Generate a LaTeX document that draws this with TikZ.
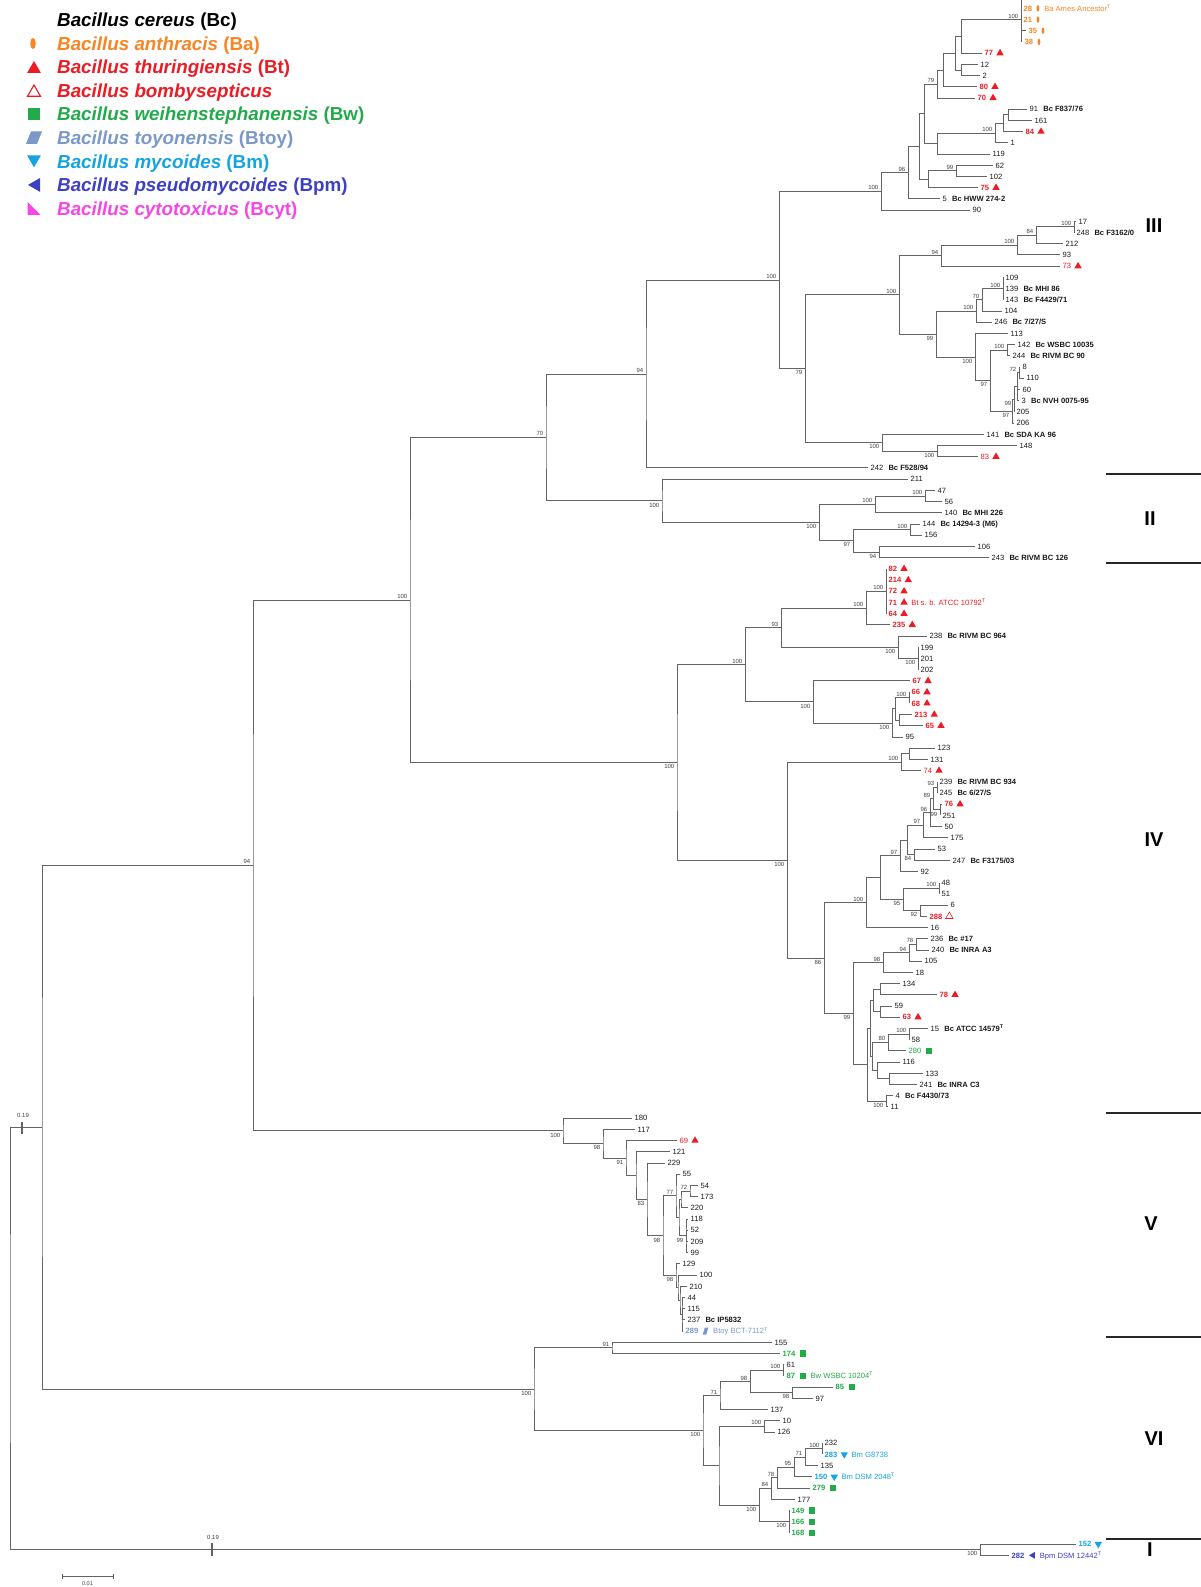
\documentclass[tikz,border=0pt]{standalone}
\usepackage{fontspec}
\setmainfont{Liberation Sans}
\usepackage{xcolor}
\usepackage{tikz}
\usetikzlibrary{positioning, calc, shapes.geometric}

\definecolor{ba}{RGB}{246,133,36}
\definecolor{bt}{RGB}{237,28,36}
\definecolor{bw}{RGB}{34,170,75}
\definecolor{btoy}{RGB}{122,153,200}
\definecolor{bm}{RGB}{22,163,226}
\definecolor{bpm}{RGB}{62,64,196}
\definecolor{bcyt}{RGB}{246,70,232}
\definecolor{branch}{RGB}{100,100,100}

% leaf: name, tip x, row, label
\newcommand{\leaf}[4]{%
  \coordinate (#1) at (#2,{-2.9+#3*11.21});
  \node[lbl] (#1-l) at (#1) {#4};}
% clade: name, x, first child, last child, bootstrap, label style
\newcommand{\clade}[6]{%
  \coordinate (#1-x) at (#2,0);
  \coordinate (#1-m) at ($(#3)!.5!(#4)$);
  \coordinate (#1) at (#1-x |- #1-m);
  \draw[br] (#3) -| (#1) |- (#4);
  \node[#6] (#1-b) at (#1) {#5};}
\newcommand{\sym}[2]{\node[#2, right=1.5pt of #1-l] (#1-s) {};}
\newcommand{\sname}[3]{\node[nm, text=#2, right=4.5pt of #1-s] (#1-n) {#3};}
\newcommand{\cn}[2]{\textcolor{#1}{\textbf{#2}}}
\newcommand{\bc}[1]{\hspace{3pt}\textbf{#1}}

\begin{document}
\begin{tikzpicture}[x=1pt, y=-1pt,
    br/.style={draw=branch, line width=0.9pt},
    brk/.style={draw=branch, line width=1.6pt},
    lbl/.style={anchor=west, inner xsep=2.5pt, inner ysep=0.5pt, text height=5.5pt, text depth=0pt, text=black!90, font=\fontsize{7.6}{9}\selectfont},
    nm/.style={inner sep=0pt, text height=5.5pt, text depth=0pt, font=\fontsize{7.6}{9}\selectfont},
    bs/.style={inner sep=0pt, text=black!75, font=\fontsize{6}{7}\selectfont},
    bsa/.style={bs, anchor=south east, xshift=-2.5pt, yshift=1.2pt},
    bsb/.style={bs, anchor=north east, xshift=-2.5pt, yshift=-1.8pt},
    bam/.style={ellipse, fill=ba, inner sep=0pt, minimum width=2.8pt, minimum height=6.5pt},
    btm/.style={regular polygon, regular polygon sides=3, fill=bt, inner sep=0pt, minimum size=8.5pt},
    bbm/.style={btm, fill=white, draw=bt, line width=0.6pt},
    bwm/.style={rectangle, fill=bw, inner sep=0pt, minimum size=6.2pt},
    btoym/.style={rectangle, fill=white, inner sep=0pt, minimum width=5.5pt, minimum height=6.8pt,
      path picture={\fill[btoy] (path picture bounding box.south west) -- ([xshift=-2pt]path picture bounding box.south east)
        -- (path picture bounding box.north east) -- ([xshift=2pt]path picture bounding box.north west) -- cycle;}},
    bmm/.style={btm, fill=bm, shape border rotate=180},
    bpmm/.style={btm, fill=bpm, shape border rotate=90, minimum size=8pt},
    sep/.style={line width=2pt, black!85},
    cladelbl/.style={inner sep=1pt, font=\fontsize{20}{24}\selectfont\bfseries},
    legtxt/.style={anchor=west, inner sep=0pt, text height=13.4pt, text depth=0pt, font=\fontsize{18.8}{22}\selectfont\bfseries}]
\useasboundingbox (0,0) rectangle (1201,1587);

% legend
\node[bam, minimum width=5.5pt, minimum height=11pt] (lg-ba) at (33,43.5) {};
\node[btm, minimum size=16pt] (lg-bt) at (34,69) {};
\node[bbm, minimum size=15pt, line width=1.1pt] (lg-bb) at (34,92.5) {};
\node[bwm, minimum size=12.5pt] (lg-bw) at (34,114.2) {};
\node[rectangle, fill=white, inner sep=0pt, minimum width=16pt, minimum height=12.5pt,
  path picture={\fill[btoy] (path picture bounding box.south west) -- ([xshift=-5pt]path picture bounding box.south east)
    -- (path picture bounding box.north east) -- ([xshift=5pt]path picture bounding box.north west) -- cycle;}] (lg-btoy) at (34,137.7) {};
\node[bmm, minimum size=16pt] (lg-bm) at (34,159.3) {};
\node[bpmm, minimum size=16pt] (lg-bpm) at (36,184.9) {};
\node[rectangle, fill=white, inner sep=0pt, minimum size=13pt,
  path picture={\fill[bcyt] (path picture bounding box.south west) -- (path picture bounding box.north west)
    -- (path picture bounding box.south east) -- cycle;}] (lg-bcyt) at (34,208.4) {};
\node[legtxt] (lg1) at (57,20) {\textit{Bacillus cereus} (Bc)};
\node[legtxt, text=ba] (lg2) at (57,43.55) {\textit{Bacillus anthracis} (Ba)};
\node[legtxt, text=bt] (lg3) at (57,67.1) {\textit{Bacillus thuringiensis} (Bt)};
\node[legtxt, text=bt] (lg4) at (57,90.65) {\textit{Bacillus bombysepticus}};
\node[legtxt, text=bw] (lg5) at (57,114.2) {\textit{Bacillus weihenstephanensis} (Bw)};
\node[legtxt, text=btoy] (lg6) at (57,137.75) {\textit{Bacillus toyonensis} (Btoy)};
\node[legtxt, text=bm] (lg7) at (57,161.3) {\textit{Bacillus mycoides} (Bm)};
\node[legtxt, text=bpm] (lg8) at (57,184.85) {\textit{Bacillus pseudomycoides} (Bpm)};
\node[legtxt, text=bcyt] (lg9) at (57,208.4) {\textit{Bacillus cytotoxicus} (Bcyt)};

% clade III leaves
\leaf{t0}{1021}{0}{}
\leaf{t28}{1021}{1}{\cn{ba}{28}} \sym{t28}{bam} \sname{t28}{ba}{Ba Ames Ancestor\textsuperscript{T}}
\leaf{t21}{1021}{2}{\cn{ba}{21}} \sym{t21}{bam}
\leaf{t35}{1026}{3}{\cn{ba}{35}} \sym{t35}{bam}
\leaf{t38}{1022}{4}{\cn{ba}{38}} \sym{t38}{bam}
\leaf{t77}{982}{5}{\cn{bt}{77}} \sym{t77}{btm}
\leaf{t12}{978}{6}{12}
\leaf{t2}{980}{7}{2}
\leaf{t80}{977}{8}{\cn{bt}{80}} \sym{t80}{btm}
\leaf{t70}{975}{9}{\cn{bt}{70}} \sym{t70}{btm}
\leaf{t91}{1027}{10}{91 \bc{Bc F837/76}}
\leaf{t161}{1032}{11}{161}
\leaf{t84}{1023}{12}{\cn{bt}{84}} \sym{t84}{btm}
\leaf{t1}{1008}{13}{1}
\leaf{t119}{990}{14}{119}
\leaf{t62}{993}{15}{62}
\leaf{t102}{987}{16}{102}
\leaf{t75}{978}{17}{\cn{bt}{75}} \sym{t75}{btm}
\leaf{t5}{940}{18}{5 \bc{Bc HWW 274-2}}
\leaf{t90}{970}{19}{90}
\leaf{t17}{1076}{20}{17}
\leaf{t248}{1074}{21}{248 \bc{Bc F3162/0}}
\leaf{t212}{1063}{22}{212}
\leaf{t93}{1060}{23}{93}
\leaf{t73}{1060}{24}{\textcolor{bt}{73}} \sym{t73}{btm}
\leaf{t109}{1003}{25}{109}
\leaf{t139}{1003}{26}{139 \bc{Bc MHI 86}}
\leaf{t143}{1003}{27}{143 \bc{Bc F4429/71}}
\leaf{t104}{1002}{28}{104}
\leaf{t246}{992}{29}{246 \bc{Bc 7/27/S}}
\leaf{t113}{1008}{30}{113}
\leaf{t142}{1015}{31}{142 \bc{Bc WSBC 10035}}
\leaf{t244}{1010}{32}{244 \bc{Bc RIVM BC 90}}
\leaf{t8}{1020}{33}{8}
\leaf{t110}{1024}{34}{110}
\leaf{t60}{1020}{35}{60}
\leaf{t3}{1019}{36}{3 \bc{Bc NVH 0075-95}}
\leaf{t205}{1014}{37}{205}
\leaf{t206}{1014}{38}{206}
\leaf{t141}{984}{39}{141 \bc{Bc SDA KA 96}}
\leaf{t148}{1017}{40}{148}
\leaf{t83}{978}{41}{\textcolor{bt}{83}} \sym{t83}{btm}
\leaf{t242}{868}{42}{242 \bc{Bc F528/94}}
% clade II leaves
\leaf{t211}{908}{43}{211}
\leaf{t47}{935}{44}{47}
\leaf{t56}{942}{45}{56}
\leaf{t140}{942}{46}{140 \bc{Bc MHI 226}}
\leaf{t144}{920}{47}{144 \bc{Bc 14294-3 (M6)}}
\leaf{t156}{922}{48}{156}
\leaf{t106}{975}{49}{106}
\leaf{t243}{989}{50}{243 \bc{Bc RIVM BC 126}}
% clade IV leaves
\leaf{t82}{886}{51}{\cn{bt}{82}} \sym{t82}{btm}
\leaf{t214}{886}{52}{\cn{bt}{214}} \sym{t214}{btm}
\leaf{t72}{886}{53}{\cn{bt}{72}} \sym{t72}{btm}
\leaf{t71}{886}{54}{\cn{bt}{71}} \sym{t71}{btm} \sname{t71}{bt}{Bt s. b. ATCC 10792\textsuperscript{T}}
\leaf{t64}{886}{55}{\cn{bt}{64}} \sym{t64}{btm}
\leaf{t235}{890}{56}{\cn{bt}{235}} \sym{t235}{btm}
\leaf{t238}{927}{57}{238 \bc{Bc RIVM BC 964}}
\leaf{t199}{918}{58}{199}
\leaf{t201}{918}{59}{201}
\leaf{t202}{918}{60}{202}
\leaf{t67}{910}{61}{\cn{bt}{67}} \sym{t67}{btm}
\leaf{t66}{909}{62}{\cn{bt}{66}} \sym{t66}{btm}
\leaf{t68}{909}{63}{\cn{bt}{68}} \sym{t68}{btm}
\leaf{t213}{912}{64}{\cn{bt}{213}} \sym{t213}{btm}
\leaf{t65}{923}{65}{\cn{bt}{65}} \sym{t65}{btm}
\leaf{t95}{903}{66}{95}
\leaf{t123}{935}{67}{123}
\leaf{t131}{928}{68}{131}
\leaf{t74}{921}{69}{\textcolor{bt}{74}} \sym{t74}{btm}
\leaf{t239}{937}{70}{239 \bc{Bc RIVM BC 934}}
\leaf{t245}{937}{71}{245 \bc{Bc 6/27/S}}
\leaf{t76}{942}{72}{\cn{bt}{76}} \sym{t76}{btm}
\leaf{t251}{940}{73}{251}
\leaf{t50}{942}{74}{50}
\leaf{t175}{948}{75}{175}
\leaf{t53}{935}{76}{53}
\leaf{t247}{950}{77}{247 \bc{Bc F3175/03}}
\leaf{t92}{918}{78}{92}
\leaf{t48}{939}{79}{48}
\leaf{t51}{939}{80}{51}
\leaf{t6}{948}{81}{6}
\leaf{t288}{927}{82}{\cn{bt}{288}} \sym{t288}{bbm}
\leaf{t16}{928}{83}{16}
\leaf{t236}{928}{84}{236 \bc{Bc \#17}}
\leaf{t240}{929}{85}{240 \bc{Bc INRA A3}}
\leaf{t105}{922}{86}{105}
\leaf{t18}{913}{87}{18}
\leaf{t134}{900}{88}{134}
\leaf{t78}{937}{89}{\cn{bt}{78}} \sym{t78}{btm}
\leaf{t59}{892}{90}{59}
\leaf{t63}{900}{91}{\cn{bt}{63}} \sym{t63}{btm}
\leaf{t15}{928}{92}{15 \bc{Bc ATCC 14579\textsuperscript{T}}}
\leaf{t58}{909}{93}{58}
\leaf{t280}{906}{94}{\textcolor{bw}{280}} \sym{t280}{bwm}
\leaf{t116}{900}{95}{116}
\leaf{t133}{923}{96}{133}
\leaf{t241}{917}{97}{241 \bc{Bc INRA C3}}
\leaf{t4}{893}{98}{4 \bc{Bc F4430/73}}
\leaf{t11}{888}{99}{11}
% clade V leaves
\leaf{t180}{632}{100}{180}
\leaf{t117}{635}{101}{117}
\leaf{t69}{677}{102}{\textcolor{bt}{69}} \sym{t69}{btm}
\leaf{t121}{670}{103}{121}
\leaf{t229}{665}{104}{229}
\leaf{t55}{680}{105}{55}
\leaf{t54}{698}{106}{54}
\leaf{t173}{698}{107}{173}
\leaf{t220}{688}{108}{220}
\leaf{t118}{688}{109}{118}
\leaf{t52}{688}{110}{52}
\leaf{t209}{688}{111}{209}
\leaf{t99}{688}{112}{99}
\leaf{t129}{680}{113}{129}
\leaf{t100}{697}{114}{100}
\leaf{t210}{687}{115}{210}
\leaf{t44}{685}{116}{44}
\leaf{t115}{685}{117}{115}
\leaf{t237}{685}{118}{237 \bc{Bc IP5832}}
\leaf{t289}{683}{119}{\cn{btoy}{289}} \sym{t289}{btoym} \sname{t289}{btoy}{Btoy BCT-7112\textsuperscript{T}}
% clade VI leaves
\leaf{t155}{772}{120}{155}
\leaf{t174}{780}{121}{\cn{bw}{174}} \sym{t174}{bwm}
\leaf{t61}{784}{122}{61}
\leaf{t87}{784}{123}{\cn{bw}{87}} \sym{t87}{bwm} \sname{t87}{bw}{Bw WSBC 10204\textsuperscript{T}}
\leaf{t85}{833}{124}{\cn{bw}{85}} \sym{t85}{bwm}
\leaf{t97}{813}{125}{97}
\leaf{t137}{768}{126}{137}
\leaf{t10}{780}{127}{10}
\leaf{t126}{775}{128}{126}
\leaf{t232}{822}{129}{232}
\leaf{t283}{822}{130}{\cn{bm}{283}} \sym{t283}{bmm} \sname{t283}{bm}{Bm G8738}
\leaf{t135}{818}{131}{135}
\leaf{t150}{812}{132}{\cn{bm}{150}} \sym{t150}{bmm} \sname{t150}{bm}{Bm DSM 2048\textsuperscript{T}}
\leaf{t279}{810}{133}{\cn{bw}{279}} \sym{t279}{bwm}
\leaf{t177}{795}{134}{177}
\leaf{t149}{789}{135}{\cn{bw}{149}} \sym{t149}{bwm}
\leaf{t166}{789}{136}{\cn{bw}{166}} \sym{t166}{bwm}
\leaf{t168}{789}{137}{\cn{bw}{168}} \sym{t168}{bwm}
% clade I leaves
\leaf{t152}{1076}{138}{\cn{bm}{152}} \sym{t152}{bmm}
\leaf{t282}{1009}{139}{\cn{bpm}{282}} \sym{t282}{bpmm} \sname{t282}{bpm}{Bpm DSM 12442\textsuperscript{T}}

% clade III
\clade{BA}{1021}{t0}{t38}{100}{bsa}
\draw[br] (BA) |- (t28); \draw[br] (BA) |- (t21); \draw[br] (BA) |- (t35);
\clade{A1}{961}{BA}{t77}{}{bs}
\clade{C12}{961}{t12}{t2}{}{bs}
\clade{A2}{955}{A1}{C12}{}{bs}
\clade{A3}{943}{A2}{t80}{}{bs}
\clade{A4}{937}{A3}{t70}{79}{bsa}
\clade{B1}{1008}{t91}{t161}{}{bs}
\clade{B2}{1003}{B1}{t84}{}{bs}
\clade{B3}{995}{B2}{t1}{100}{bsa}
\clade{B4}{937}{B3}{t119}{}{bs}
\clade{D1}{924}{A4}{B4}{}{bs}
\clade{C1}{956}{t62}{t102}{99}{bsa}
\clade{C2}{928}{C1}{t75}{}{bs}
\clade{D2}{919}{D1}{C2}{}{bs}
\clade{D3}{908}{D2}{t5}{96}{bsa}
\clade{D4}{881}{D3}{t90}{100}{bsa}
\clade{F5}{1074}{t17}{t248}{100}{bsa}
\clade{F4}{1036}{F5}{t212}{84}{bsa}
\clade{F3}{1017}{F4}{t93}{100}{bsa}
\clade{F1}{941}{F3}{t73}{94}{bsa}
\clade{F9}{1003}{t109}{t143}{100}{bsa}
\draw[br] (F9) |- (t139);
\clade{F8}{982}{F9}{t104}{70}{bsa}
\clade{F6}{976}{F8}{t246}{100}{bsa}
\clade{F11}{1007}{t142}{t244}{100}{bsa}
\clade{G1}{1019}{t8}{t110}{72}{bsa}
\clade{G2}{1017}{G1}{t3}{}{bs}
\draw[br] (G2) |- (t60);
\clade{G3}{1014}{G2}{t205}{99}{bsb}
\clade{G4}{1012}{G3}{t206}{97}{bsb}
\clade{F10}{990}{F11}{G4}{97}{bsb}
\clade{F7}{975}{t113}{F10}{100}{bsb}
\clade{F2}{936}{F6}{F7}{99}{bsb}
\clade{F}{899}{F1}{F2}{100}{bsa}
\clade{G5}{937}{t148}{t83}{100}{bsb}
\clade{G}{882}{t141}{G5}{100}{bsb}
\clade{E}{805}{F}{G}{79}{bsb}
\clade{H}{779}{D4}{E}{100}{bsa}
\clade{J}{646}{H}{t242}{94}{bsa}
% clade II
\clade{II4}{925}{t47}{t56}{100}{bsa}
\clade{II2}{875}{II4}{t140}{100}{bsa}
\clade{II5}{910}{t144}{t156}{100}{bsa}
\clade{II6}{879}{t106}{t243}{94}{bsb}
\clade{II3}{853}{II5}{II6}{97}{bsb}
\clade{II1}{819}{II2}{II3}{100}{bsb}
\clade{IIr}{662}{t211}{II1}{100}{bsb}
\clade{K}{546}{J}{IIr}{70}{bsa}
% clade IV
\clade{R1}{886}{t82}{t64}{100}{bsa}
\foreach \c in {t214,t72,t71} \draw[br] (R1) |- (\c);
\clade{R}{866}{R1}{t235}{100}{bsa}
\clade{S1}{918}{t199}{t202}{100}{bsb}
\draw[br] (S1) |- (t201);
\clade{S}{898}{t238}{S1}{100}{bsb}
\clade{P}{781}{R}{S}{93}{bsa}
\clade{Q3}{909}{t66}{t68}{100}{bsa}
\clade{Q4}{899}{t213}{t65}{}{bs}
\clade{Q2}{895}{Q3}{Q4}{}{bs}
\clade{Q1}{892}{Q2}{t95}{100}{bsb}
\clade{Q}{813}{t67}{Q1}{100}{bsb}
\clade{N}{745}{P}{Q}{100}{bsa}
\clade{O1a}{909}{t123}{t131}{}{bs}
\clade{O1}{901}{O1a}{t74}{100}{bsa}
\clade{O13}{937}{t239}{t245}{93}{bsa}
\clade{O14}{940}{t76}{t251}{99}{bsb}
\clade{O15}{933}{O13}{O14}{89}{bsa}
\clade{O9}{930}{O15}{t50}{96}{bsa}
\clade{O8}{923}{O9}{t175}{97}{bsa}
\clade{N53}{914}{t53}{t247}{84}{bsb}
\clade{O6}{907}{O8}{N53}{}{bs}
\clade{O7}{900}{O6}{t92}{97}{bsa}
\clade{O11}{939}{t48}{t51}{100}{bsa}
\clade{O12}{920}{t6}{t288}{92}{bsb}
\clade{O10}{903}{O11}{O12}{95}{bsb}
\clade{O5}{880}{O7}{O10}{}{bs}
\clade{O3}{866}{O5}{t16}{100}{bsa}
\clade{O19}{916}{t236}{t240}{78}{bsa}
\clade{O18}{909}{O19}{t105}{94}{bsa}
\clade{O16}{883}{O18}{t18}{98}{bsa}
\clade{N134}{880}{t134}{t78}{}{bs}
\clade{N59}{880}{t59}{t63}{}{bs}
\clade{N873}{873}{N134}{N59}{}{bs}
\clade{O20}{909}{t15}{t58}{100}{bsa}
\clade{N80}{888}{O20}{t280}{80}{bsa}
\clade{N133}{889}{t133}{t241}{}{bs}
\clade{N116}{877}{t116}{N133}{}{bs}
\clade{N872}{872}{N80}{N116}{}{bs}
\clade{N870}{870}{N873}{N872}{}{bs}
\clade{N4}{886}{t4}{t11}{100}{bsb}
\clade{O17}{867}{N870}{N4}{}{bs}
\clade{O4}{853}{O16}{O17}{99}{bsb}
\clade{O2}{824}{O3}{O4}{86}{bsb}
\clade{O}{787}{O1}{O2}{100}{bsb}
\clade{M}{677}{N}{O}{100}{bsb}
\clade{L}{410}{K}{M}{100}{bsa}
% clade V
\clade{V10}{690}{t54}{t173}{72}{bsa}
\clade{V9}{681}{V10}{t220}{}{bs}
\clade{V11}{686}{t118}{t99}{99}{bsb}
\draw[br] (V11) |- (t52); \draw[br] (V11) |- (t209);
\clade{V8}{679}{V9}{V11}{}{bs}
\clade{V6}{676}{t55}{V8}{77}{bsa}
\clade{V14}{682}{t44}{t289}{}{bs}
\draw[br] (V14) |- (t115); \draw[br] (V14) |- (t237);
\clade{V13}{680}{t210}{V14}{}{bs}
\clade{V12}{678}{t100}{V13}{}{bs}
\clade{V7}{676}{t129}{V12}{98}{bsb}
\clade{V5}{663}{V6}{V7}{98}{bsb}
\clade{V4}{647}{t229}{V5}{83}{bsb}
\clade{V3}{636}{t121}{V4}{}{bs}
\clade{V2}{626}{t69}{V3}{91}{bsb}
\clade{V1}{603}{t117}{V2}{98}{bsb}
\clade{Vr}{563}{t180}{V1}{100}{bsb}
\clade{U}{253}{L}{Vr}{94}{bsa}
% clade VI
\clade{W}{612}{t155}{t174}{91}{bsa}
\clade{N61}{783}{t61}{t87}{100}{bsa}
\clade{N85}{792}{t85}{t97}{98}{bsb}
\clade{Y1}{750}{N61}{N85}{98}{bsa}
\clade{Y}{720}{Y1}{t137}{71}{bsa}
\clade{N10}{764}{t10}{t126}{100}{bsa}
\clade{AF}{822}{t232}{t283}{100}{bsa}
\clade{AE}{805}{AF}{t135}{71}{bsa}
\clade{AD}{794}{AE}{t150}{95}{bsa}
\clade{AC}{777}{AD}{t279}{78}{bsa}
\clade{AB}{771}{AC}{t177}{84}{bsa}
\clade{N149}{789}{t149}{t168}{100}{bsb}
\draw[br] (N149) |- (t166);
\clade{AA}{759}{AB}{N149}{100}{bsb}
\clade{Z}{719}{N10}{AA}{}{bs}
\clade{X}{703}{Y}{Z}{100}{bsb}
\clade{VIr}{534}{W}{X}{100}{bsb}
\clade{T}{42}{U}{VIr}{}{bs}
% clade I and root
\clade{Ir}{980}{t152}{t282}{100}{bsb}
\clade{Root}{10}{T}{Ir}{}{bs}

% broken branches
\draw[brk] (22,1122) -- (22,1134);
\node[bs] (brk1) at (23,1115) {0.19};
\draw[brk] (212,1543) -- (212,1556);
\node[bs] (brk2) at (213,1537) {0.19};

% scale bar
\draw[br, line width=0.8pt] (62,1573.5) -- (62,1578.5) (62,1576) -- (113,1576) (113,1573.5) -- (113,1578.5);
\node[bs, font=\fontsize{5.5}{6}\selectfont] (scale) at (87.5,1583.5) {0.01};

% clade bars and names
\foreach \y in {473.5,563.2,1112.5,1336.8,1538.6} \draw[sep] (1106,\y) -- (1201,\y);
\node[cladelbl, fill=white, inner xsep=8pt] (cIII) at (1154,226) {III};
\node[cladelbl] (cII) at (1150,519) {II};
\node[cladelbl] (cIV) at (1154,840) {IV};
\node[cladelbl] (cV) at (1151,1224) {V};
\node[cladelbl] (cVI) at (1154,1439) {VI};
\node[cladelbl] (cI) at (1150,1550) {I};
\end{tikzpicture}
\end{document}
